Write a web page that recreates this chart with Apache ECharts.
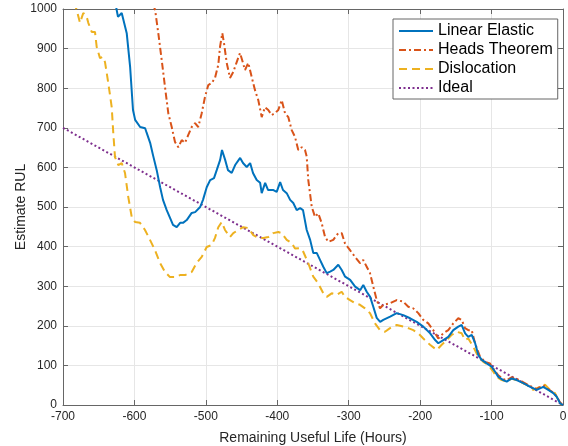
<!DOCTYPE html>
<html>
<head>
<meta charset="utf-8">
<script src="https://cdn.jsdelivr.net/npm/echarts@6/dist/echarts.min.js"></script>
<style>
html,body{margin:0;padding:0;background:#fff;}
#chart{width:568px;height:446px;}
</style>
</head>
<body>
<div id="chart"></div>
<script>
var seriesNames = ['Linear Elastic', 'Heads Theorem', 'Dislocation', 'Ideal'];
var xTicks = [-700, -600, -500, -400, -300, -200, -100, 0];
var yTicks = [0, 100, 200, 300, 400, 500, 600, 700, 800, 900, 1000];

var linearElastic = [[-630,1050],[-624.8,997],[-623,980],[-617.8,990],[-616,985],[-610.8,939],[-606,853],[-602,745],[-599,720],[-596.4,715],[-592,702],[-585,699],[-582.8,687],[-578,662],[-574,631],[-568.8,593],[-564,550],[-560,518],[-554.8,492],[-550,472],[-546,455],[-540.8,449],[-536,460],[-532,460],[-526.8,467],[-519.8,485],[-515,487],[-508,500],[-504,518],[-498.8,550],[-494,568],[-488.6,573],[-484.8,593],[-480,619],[-477.4,644],[-473,619],[-469,593],[-463.8,586],[-459,606],[-452,624],[-448,611],[-442.8,601],[-438,611],[-434,586],[-428.8,568],[-424,561],[-421.8,535],[-417,561],[-413,543],[-406,543],[-400.8,538],[-396,563],[-392,543],[-386.8,535],[-382,518],[-377.6,510],[-372.8,492],[-368,497],[-364,492],[-358.8,442],[-354,417],[-349.6,384],[-344.8,384],[-340,366],[-335.6,349],[-330.8,333],[-326,337],[-321.6,341],[-314.6,354],[-309.8,341],[-305,324],[-298,316],[-291,299],[-284,290],[-279.6,303],[-274.8,286],[-270,273],[-265.6,248],[-260.8,220],[-256,210],[-251.6,215],[-242,223],[-232.8,232],[-223.6,227],[-214,219],[-204.8,210],[-195.6,198],[-186,181],[-179,164],[-174.6,156],[-167.6,164],[-160.6,172],[-153.6,189],[-146.6,198],[-141.8,202],[-137,181],[-132.6,172],[-127.8,177],[-123,156],[-118.6,126],[-113.8,114],[-106.8,105],[-100,97],[-95,84],[-90.6,71],[-83.6,63],[-78.8,59],[-71.8,67],[-64.8,63],[-55.6,55],[-46,46],[-36.8,38],[-27.6,46],[-20.6,38],[-13.6,30],[-8.8,21],[-4,4],[0,0]];

var headsTheorem = [[-580,1050],[-571,997],[-566.6,939],[-561.8,871],[-557.2,803],[-552.6,737],[-547.8,702],[-543.2,664],[-538.6,651],[-533.8,669],[-529.2,662],[-524.6,682],[-519.8,702],[-515.2,712],[-510.6,702],[-505.8,737],[-501.2,778],[-496.6,808],[-491.8,813],[-487.2,826],[-482.6,859],[-480.2,904],[-477,939],[-474.6,914],[-470.8,864],[-466.2,826],[-461.6,841],[-456.8,866],[-452.2,889],[-448.4,866],[-445.2,846],[-440.6,864],[-435.8,828],[-431.2,795],[-426.6,770],[-421.8,727],[-417.2,752],[-412.6,745],[-407.8,732],[-403.2,737],[-398.6,745],[-393.8,770],[-389.2,737],[-384.6,727],[-379.8,694],[-375.2,677],[-370.6,644],[-365.8,651],[-361.2,644],[-358.8,627],[-356.6,568],[-351.8,501],[-347.2,475],[-342.6,484],[-337.8,459],[-333.2,425],[-328.6,412],[-321.6,417],[-314.6,434],[-309.8,434],[-305.2,408],[-298.2,391],[-291.2,374],[-284.2,358],[-279.6,366],[-274.8,349],[-270.2,333],[-265.6,299],[-260.8,265],[-256.2,244],[-251.6,253],[-242.2,257],[-232.8,265],[-223.6,261],[-216.6,248],[-209.6,244],[-202.6,232],[-195.6,215],[-188.6,206],[-181.6,189],[-174.6,168],[-167.6,181],[-160.6,189],[-153.6,206],[-146.6,219],[-141.8,215],[-137.2,194],[-132.6,189],[-127.8,189],[-123.2,156],[-116.2,122],[-109.2,109],[-102.2,105],[-99.8,97],[-90.6,75],[-84,66],[-79,62],[-72,70],[-65,66],[-56,58],[-46,48],[-37,40],[-28,50],[-21,40],[-14,32],[-9,22],[-4,6],[0,0]];

var dislocation = [[-690,1050],[-680.8,997],[-676.2,965],[-671.6,990],[-666.8,980],[-664.6,965],[-659.8,942],[-655.2,942],[-652.8,904],[-648.2,876],[-644.4,879],[-641.2,866],[-636.6,813],[-631.8,752],[-629.6,687],[-627.2,626],[-622.6,606],[-617.8,611],[-613.2,586],[-608.6,525],[-603.8,475],[-599.2,462],[-592.2,460],[-585.2,442],[-578.2,417],[-571.2,391],[-564.2,359],[-557.2,336],[-550.2,323],[-543.2,323],[-536.2,328],[-529.2,328],[-519.8,336],[-512.8,359],[-505.8,374],[-498.8,399],[-491.8,404],[-487.2,422],[-482.6,449],[-477.8,462],[-473.2,442],[-466.2,424],[-461.6,434],[-454.6,442],[-447.6,449],[-440.6,447],[-433.6,429],[-426.6,422],[-419.6,422],[-412.6,424],[-405.6,434],[-398.6,437],[-393.8,434],[-386.8,417],[-379.8,409],[-375.2,395],[-368.2,396],[-363.6,387],[-356.6,358],[-349.6,324],[-342.6,307],[-335.6,282],[-330.8,273],[-323.8,282],[-316.8,278],[-309.8,286],[-305.2,273],[-298.2,265],[-291.2,257],[-284.2,253],[-277.2,244],[-270.2,232],[-263.2,206],[-256.2,189],[-249.2,185],[-242.2,194],[-232.8,202],[-223.6,198],[-216.6,194],[-209.6,189],[-202.6,181],[-195.6,168],[-186.2,152],[-176.8,139],[-169.8,152],[-162.8,164],[-155.8,177],[-148.8,185],[-141.8,181],[-137.2,164],[-132.6,168],[-125.6,147],[-118.6,122],[-111.6,109],[-104.6,101],[-97.6,84],[-92.8,71],[-85.8,63],[-78.8,59],[-71.8,67],[-60.2,59],[-50.8,51],[-41.6,38],[-32.2,46],[-25.2,51],[-18.2,38],[-11.2,30],[-6.6,13],[-1.8,0]];

var ideal = [[-700,700],[0,0]];

var colors = ['#0072BD', '#D95319', '#EDB120', '#7E2F8E'];
var FONT = 'Liberation Sans, Arial, Helvetica, sans-serif';
var AX = '#262626';
var BOX = '#666666';

var chart = echarts.init(document.getElementById('chart'), null, {renderer: 'canvas'});

function plain(v) { return String(v); }

function baseX(pos, show) {
  return {
    type: 'value', min: xTicks[0], max: xTicks[xTicks.length-1], interval: 100, position: pos,
    axisLine: {show: true, onZero: false, lineStyle: {color: BOX, width: 1}},
    axisTick: {show: true, inside: true, length: 5, lineStyle: {color: BOX}},
    axisLabel: {show: show, color: AX, fontSize: 12, fontFamily: FONT, margin: 6, formatter: plain},
    splitLine: {show: show, lineStyle: {color: '#e6e6e6', width: 1}}
  };
}
function baseY(pos, show) {
  return {
    type: 'value', min: yTicks[0], max: yTicks[yTicks.length-1], interval: 100, position: pos,
    axisLine: {show: true, onZero: false, lineStyle: {color: BOX, width: 1}},
    axisTick: {show: true, inside: true, length: 5, lineStyle: {color: BOX}},
    axisLabel: {show: show, color: AX, fontSize: 12, fontFamily: FONT, margin: 6, formatter: plain},
    splitLine: {show: show, lineStyle: {color: '#e6e6e6', width: 1}}
  };
}

var xa = baseX('bottom', true);
xa.name = 'Remaining Useful Life (Hours)';
xa.nameLocation = 'middle';
xa.nameGap = 26;
xa.nameMoveOverlap = false;
xa.nameTextStyle = {color: AX, fontSize: 14, fontFamily: FONT};
var ya = baseY('left', true);
ya.name = 'Estimate RUL';
ya.nameLocation = 'middle';
ya.nameGap = 35;
ya.nameMoveOverlap = false;
ya.nameTextStyle = {color: AX, fontSize: 14, fontFamily: FONT};

var datasets = [linearElastic, headsTheorem, dislocation, ideal];
var types = ['solid', [7, 3, 2, 3], [8, 5], [2, 2.5]];

var series = datasets.map(function (d, i) {
  return {
    name: seriesNames[i], type: 'line', data: d, xAxisIndex: 0, yAxisIndex: 0,
    showSymbol: false, symbol: 'none', clip: true, animation: false,
    lineStyle: {color: colors[i], width: 2, type: types[i]},
    itemStyle: {color: colors[i]},
    z: 3 + (3 - i)
  };
});

chart.setOption({
  animation: false,
  backgroundColor: '#fff',
  grid: {left: 63, right: 5, top: 9, bottom: 41, containLabel: false, outerBoundsMode: 'none'},
  xAxis: [xa, baseX('top', false)],
  yAxis: [ya, baseY('right', false)],
  legend: {
    show: true,
    data: seriesNames,
    orient: 'vertical',
    left: 393, top: 19,
    padding: [4, 5, 3, 5],
    itemWidth: 34, itemHeight: 14, itemGap: 3,
    backgroundColor: '#fff',
    borderColor: BOX, borderWidth: 1,
    itemStyle: {opacity: 0},
    textStyle: {color: '#000', fontSize: 16, fontFamily: FONT}
  },
  series: series
});
</script>
</body>
</html>
